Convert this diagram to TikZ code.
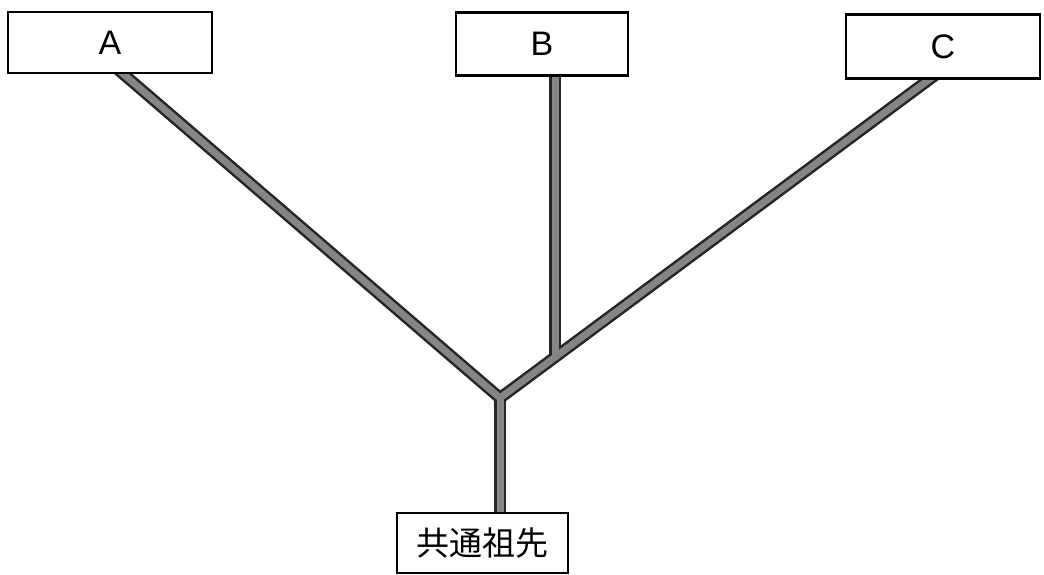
\documentclass[tikz,border=0pt]{standalone}
\usepackage{fontspec}
\setmainfont{Liberation Sans}
\newfontfamily\cjk{Noto Sans CJK JP}
\begin{document}
\begin{tikzpicture}[x=1pt,y=-1pt,
  box/.style={draw=black,line width=2.6pt,fill=white,inner sep=0pt},
  edgeout/.style={draw=black!85,line width=12pt},
  edgein/.style={draw=black!48,line width=7pt}]
\useasboundingbox (0,0) rectangle (1044,574);
% named positions
\coordinate (j) at (500,398);
\coordinate (k) at (555,358);
\coordinate (ta) at (114,66);
\coordinate (tb) at (555,66);
\coordinate (tc) at (942,70);
\coordinate (tr) at (500,520);
% connectors: dark outline then gray core
\foreach \s in {edgeout,edgein}{
  \draw[\s,line cap=butt,line join=miter] (ta) -- (j) -- (tc);
  \draw[\s,line cap=butt] (tb) -- (k);
  \draw[\s,line cap=butt] (j) -- (tr);
}
% boxes
\node[box,minimum width=204pt,minimum height=61pt] (A) at (110,42.5) {\fontsize{34}{36}\selectfont A};
\node[box,minimum width=172pt,minimum height=63pt] (B) at (542,44) {\fontsize{34}{36}\selectfont B};
\node[box,minimum width=194pt,minimum height=64pt] (C) at (943,46.5) {\fontsize{34}{36}\selectfont C};
\node[box,minimum width=171pt,minimum height=60pt] (R) at (482.5,543) {\cjk\fontsize{33}{35}\selectfont 共通祖先};
\end{tikzpicture}
\end{document}
